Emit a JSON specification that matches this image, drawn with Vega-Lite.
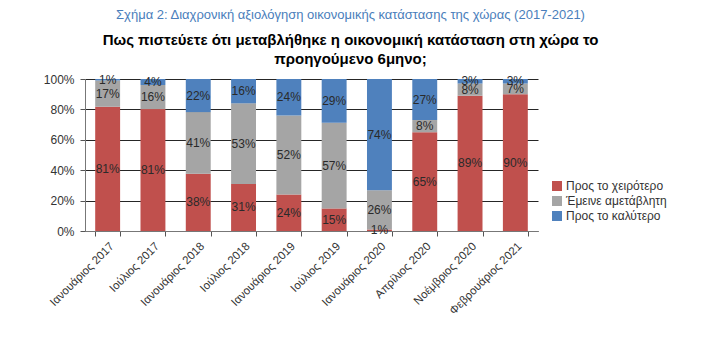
{
  "$schema": "https://vega.github.io/schema/vega-lite/v6.json",
  "width": 453,
  "height": 152,
  "padding": {"left": 43, "top": 9, "right": 10, "bottom": 5},
  "background": "white",
  "title": {
    "text": "Σχήμα 2: Διαχρονική αξιολόγηση οικονομικής κατάστασης της χώρας (2017-2021)",
    "subtitle": ["Πως πιστεύετε ότι μεταβλήθηκε η οικονομική κατάσταση στη χώρα το", "προηγούμενο 6μηνο;"],
    "anchor": "middle",
    "dx": 39,
    "font": "Liberation Sans",
    "fontSize": 13,
    "fontWeight": "normal",
    "color": "#4a7ebb",
    "subtitleFont": "Liberation Sans",
    "subtitleFontSize": 15,
    "subtitleFontWeight": "bold",
    "subtitleColor": "#000000",
    "subtitleLineHeight": 19,
    "subtitlePadding": 11,
    "offset": 6
  },
  "data": {
    "values": [
      {"period": "Ιανουάριος 2017", "answer": "Προς το χειρότερο", "order": 1, "value": 81},
      {"period": "Ιανουάριος 2017", "answer": "Έμεινε αμετάβλητη", "order": 2, "value": 17},
      {"period": "Ιανουάριος 2017", "answer": "Προς το καλύτερο", "order": 3, "value": 1},
      {"period": "Ιούλιος 2017", "answer": "Προς το χειρότερο", "order": 1, "value": 81},
      {"period": "Ιούλιος 2017", "answer": "Έμεινε αμετάβλητη", "order": 2, "value": 16},
      {"period": "Ιούλιος 2017", "answer": "Προς το καλύτερο", "order": 3, "value": 4},
      {"period": "Ιανουάριος 2018", "answer": "Προς το χειρότερο", "order": 1, "value": 38},
      {"period": "Ιανουάριος 2018", "answer": "Έμεινε αμετάβλητη", "order": 2, "value": 41},
      {"period": "Ιανουάριος 2018", "answer": "Προς το καλύτερο", "order": 3, "value": 22},
      {"period": "Ιούλιος 2018", "answer": "Προς το χειρότερο", "order": 1, "value": 31},
      {"period": "Ιούλιος 2018", "answer": "Έμεινε αμετάβλητη", "order": 2, "value": 53},
      {"period": "Ιούλιος 2018", "answer": "Προς το καλύτερο", "order": 3, "value": 16},
      {"period": "Ιανουάριος 2019", "answer": "Προς το χειρότερο", "order": 1, "value": 24},
      {"period": "Ιανουάριος 2019", "answer": "Έμεινε αμετάβλητη", "order": 2, "value": 52},
      {"period": "Ιανουάριος 2019", "answer": "Προς το καλύτερο", "order": 3, "value": 24},
      {"period": "Ιούλιος 2019", "answer": "Προς το χειρότερο", "order": 1, "value": 15},
      {"period": "Ιούλιος 2019", "answer": "Έμεινε αμετάβλητη", "order": 2, "value": 57},
      {"period": "Ιούλιος 2019", "answer": "Προς το καλύτερο", "order": 3, "value": 29},
      {"period": "Ιανουάριος 2020", "answer": "Προς το χειρότερο", "order": 1, "value": 1},
      {"period": "Ιανουάριος 2020", "answer": "Έμεινε αμετάβλητη", "order": 2, "value": 26},
      {"period": "Ιανουάριος 2020", "answer": "Προς το καλύτερο", "order": 3, "value": 74},
      {"period": "Απρίλιος 2020", "answer": "Προς το χειρότερο", "order": 1, "value": 65},
      {"period": "Απρίλιος 2020", "answer": "Έμεινε αμετάβλητη", "order": 2, "value": 8},
      {"period": "Απρίλιος 2020", "answer": "Προς το καλύτερο", "order": 3, "value": 27},
      {"period": "Νοέμβριος 2020", "answer": "Προς το χειρότερο", "order": 1, "value": 89},
      {"period": "Νοέμβριος 2020", "answer": "Έμεινε αμετάβλητη", "order": 2, "value": 8},
      {"period": "Νοέμβριος 2020", "answer": "Προς το καλύτερο", "order": 3, "value": 3},
      {"period": "Φεβρουάριος 2021", "answer": "Προς το χειρότερο", "order": 1, "value": 90},
      {"period": "Φεβρουάριος 2021", "answer": "Έμεινε αμετάβλητη", "order": 2, "value": 7},
      {"period": "Φεβρουάριος 2021", "answer": "Προς το καλύτερο", "order": 3, "value": 3}
    ]
  },
  "transform": [
    {"stack": "value", "groupby": ["period"], "sort": [{"field": "order", "order": "ascending"}], "offset": "normalize", "as": ["y0", "y1"]},
    {"calculate": "(datum.y0 + datum.y1) / 2", "as": "ymid"},
    {"calculate": "datum.value + '%'", "as": "label"}
  ],
  "encoding": {
    "x": {
      "field": "period",
      "type": "nominal",
      "sort": null,
      "title": null,
      "scale": {"paddingInner": 0.45, "paddingOuter": 0.225},
      "axis": {
        "labelAngle": -45,
        "labelAlign": "right",
        "labelBaseline": "top",
        "labelFont": "Liberation Sans",
        "labelFontSize": 11.5,
        "labelColor": "#333333",
        "labelPadding": 4,
        "labelOverlap": false,
        "tickBand": "extent",
        "tickSize": 5,
        "tickColor": "#555555",
        "domainColor": "#777777",
        "grid": false
      }
    }
  },
  "layer": [
    {
      "mark": {"type": "bar"},
      "encoding": {
        "y": {
          "field": "y0",
          "type": "quantitative",
          "scale": {"domain": [0, 1]},
          "title": null,
          "axis": {
            "format": ".0%",
            "values": [0, 0.2, 0.4, 0.6, 0.8, 1],
            "labelOverlap": false,
            "labelFont": "Liberation Sans",
            "labelFontSize": 12,
            "labelColor": "#333333",
            "labelPadding": 6,
            "tickSize": 5,
            "tickColor": "#555555",
            "domainColor": "#777777",
            "gridColor": "#000000",
            "gridOpacity": 0.85,
            "gridWidth": 1
          }
        },
        "y2": {"field": "y1"},
        "color": {
          "field": "answer",
          "type": "nominal",
          "sort": ["Προς το χειρότερο", "Έμεινε αμετάβλητη", "Προς το καλύτερο"],
          "scale": {
            "domain": ["Προς το χειρότερο", "Έμεινε αμετάβλητη", "Προς το καλύτερο"],
            "range": ["#c0504d", "#a5a5a5", "#4f81bd"]
          },
          "legend": {
            "title": null,
            "orient": "none",
            "legendX": 466,
            "legendY": 101,
            "symbolType": "square",
            "symbolSize": 100,
            "symbolStrokeWidth": 0,
            "labelFont": "Liberation Sans",
            "labelFontSize": 12,
            "labelColor": "#333333",
            "rowPadding": 3,
            "labelOffset": 3
          }
        }
      }
    },
    {
      "mark": {"type": "text", "font": "Liberation Sans", "fontSize": 12, "color": "#2a2a2a", "baseline": "middle"},
      "encoding": {
        "y": {
          "field": "ymid",
          "type": "quantitative",
          "title": null,
          "axis": {
            "format": ".0%",
            "values": [0, 0.2, 0.4, 0.6, 0.8, 1],
            "labelOverlap": false,
            "labelFont": "Liberation Sans",
            "labelFontSize": 12,
            "labelColor": "#333333",
            "labelPadding": 6,
            "tickSize": 5,
            "tickColor": "#555555",
            "domainColor": "#777777",
            "gridColor": "#000000",
            "gridOpacity": 0.85,
            "gridWidth": 1
          }
        },
        "text": {"field": "label"}
      }
    }
  ],
  "config": {
    "view": {"stroke": null}
  }
}
